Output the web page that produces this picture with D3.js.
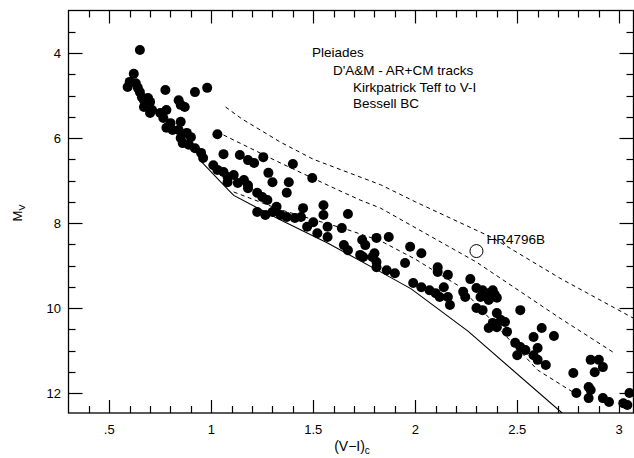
<!DOCTYPE html>
<html><head><meta charset="utf-8">
<script src="https://cdn.jsdelivr.net/npm/d3@7"></script>
<style>
html,body{margin:0;padding:0;background:#fff;}
svg{display:block;font-family:"Liberation Sans",Arial,Helvetica,sans-serif;}
</style></head>
<body><svg id="c" width="634" height="458"></svg>
<script>
// Pleiades members: [V-I, Mv]
const pleiadesVI = [0.65,0.62,0.60,0.59,0.63,0.64,0.65,0.66,0.67,0.69,0.70,0.67,0.71,0.70,0.75,0.765,0.78,0.775,0.84,0.85,0.87,0.92,0.98,0.80,0.78,0.81,0.85,0.84,0.88,0.90,0.85,0.86,0.89,0.92,0.95,0.96,1.03,1.06,1.01,1.03,1.06,1.08,1.11,1.13,1.16,1.18,1.14,1.18,1.21,1.255,1.28,1.30,1.225,1.25,1.275,1.225,1.265,1.30,1.32,
1.40,1.38,1.37,1.495,1.08,1.18,1.34,1.37,1.41,1.45,1.44,1.47,1.50,1.52,1.55,1.55,1.57,1.57,1.64,1.67,1.65,1.67,1.74,1.755,1.745,1.79,1.81,1.81,
1.73,1.80,1.87,1.81,1.86,1.90,1.95,1.975,2.03,1.99,2.03,2.07,2.11,2.11,2.16,2.14,2.10,2.12,2.16,2.17,2.27,2.235,2.245,2.30,2.33,2.32,2.35,2.38,2.39,2.40,2.36,2.30,2.33,2.515,2.40,2.42,2.38,2.36,2.44,2.45,2.40,2.58,2.62,2.68,2.49,2.515,2.50,2.54,2.60,2.58,2.60,2.64,2.775,2.86,2.90,2.92,2.88,2.85,2.86,2.79,2.85,2.92,2.95,3.02,3.05,3.04];
const pleiadesMv = [3.93,4.49,4.68,4.80,4.71,4.82,4.92,5.04,5.11,5.06,5.15,5.27,5.34,5.41,5.41,5.53,5.34,4.87,5.11,5.22,5.27,4.92,4.82,5.65,5.76,5.81,5.62,5.81,5.88,5.98,6.00,6.12,6.16,6.24,6.35,6.47,5.91,6.38,6.64,6.75,6.80,6.92,6.87,7.06,6.99,7.11,6.40,6.52,6.59,6.45,6.82,7.04,7.29,7.39,7.46,7.74,7.81,7.74,7.62,
6.61,7.04,7.29,6.94,7.04,7.18,7.81,7.86,7.88,7.65,7.86,8.09,7.98,8.24,7.58,7.81,8.09,8.33,8.12,7.79,8.52,8.64,8.40,8.52,8.80,8.80,8.35,9.04,
8.75,8.71,8.33,8.92,9.11,9.18,8.94,8.56,8.71,9.41,9.51,9.58,9.04,9.15,9.22,9.51,9.65,9.74,9.74,9.93,9.32,9.62,9.74,9.53,9.58,9.74,9.65,9.58,9.69,9.76,9.81,10.00,10.05,10.05,10.12,10.28,10.35,10.47,10.33,10.56,10.45,10.68,10.47,10.66,10.82,10.92,11.11,10.99,10.94,11.11,11.22,11.34,11.53,11.22,11.22,11.39,11.51,11.86,11.93,12.00,12.12,12.12,12.21,12.24,12.00,12.28];

// theoretical tracks
const solidVI   = [0.95,1.08,1.11,1.34,1.57,1.83,1.98,2.26,2.72];
const solidMv   = [6.55,7.20,7.35,7.93,8.47,9.15,9.55,10.55,12.47];
const dash1VI   = [1.11,1.34,1.67,1.83,2.00,2.22,2.60,2.78];
const dash1Mv   = [7.27,7.69,8.16,8.42,8.85,9.50,11.46,12.00];
const dash2VI   = [1.06,1.34,1.62,1.73,1.83,2.30,2.71,2.97];
const dash2Mv   = [5.93,6.59,7.22,7.46,7.65,8.92,10.24,11.04];
const dash3VI   = [1.07,1.15,1.34,1.50,1.83,2.00,2.38,2.71,3.07];
const dash3Mv   = [5.27,5.55,6.10,6.50,7.10,7.50,8.35,9.30,10.24];

const hrName = "HR4796B", hrVI = 2.30, hrMv = 8.66;

const xTickVals = [0.5,1,1.5,2,2.5,3];
const xTickLabels = [".5","1","1.5","2","2.5","3"];
const yTickVals = [4,6,8,10,12];
const yTickLabels = ["4","6","8","10","12"];
const annoLines = ["Pleiades","D'A&M - AR+CM tracks","Kirkpatrick Teff to V-I","Bessell BC"];

const svg = d3.select("#c");
const L=68.5, R=633.5, T=10.5, B=413;
const x = d3.scaleLinear().domain([0.3,3.07]).range([L,R]);
const y = d3.scaleLinear().domain([3,12.47]).range([T,B]);

// frame
svg.append("rect").attr("x",L).attr("y",T).attr("width",R-L).attr("height",B-T)
  .attr("fill","none").attr("stroke","#000").attr("stroke-width",1.3);

// ticks (inward on all sides)
const xMinor = d3.range(4,31).map(d=>d/10);
const yMinor = d3.range(7,25).map(d=>d/2);
const isMajX = v => Math.abs(v*2-Math.round(v*2))<1e-6;
const isMajY = v => Math.abs(v/2-Math.round(v/2))<1e-6;
const tk = svg.append("g").attr("stroke","#000").attr("stroke-width",1.2);
xMinor.forEach(v=>{
  const len = isMajX(v)?13:7, px = Math.round(x(v))+0.5;
  tk.append("line").attr("x1",px).attr("x2",px).attr("y1",B).attr("y2",B-len);
  tk.append("line").attr("x1",px).attr("x2",px).attr("y1",T).attr("y2",T+len);
});
yMinor.forEach(v=>{
  const len = isMajY(v)?14:7, py = Math.round(y(v))+0.5;
  tk.append("line").attr("y1",py).attr("y2",py).attr("x1",L).attr("x2",L+len);
  tk.append("line").attr("y1",py).attr("y2",py).attr("x1",R).attr("x2",R-len);
});

// tick labels
svg.append("g").selectAll("text").data(xTickVals).join("text")
  .attr("x",d=>x(d)).attr("y",434).attr("text-anchor","middle")
  .attr("font-size",13).text((d,i)=>xTickLabels[i]);
svg.append("g").selectAll("text").data(yTickVals).join("text")
  .attr("x",61).attr("y",d=>y(d)+4.5).attr("text-anchor","end")
  .attr("font-size",13).text((d,i)=>yTickLabels[i]);

// axis titles
const xt = svg.append("text").attr("x",352).attr("y",451).attr("text-anchor","middle").attr("font-size",14);
xt.append("tspan").text("(V\u2212I)");
xt.append("tspan").attr("font-size",10).attr("dy",2.5).text("c");
const yt = svg.append("text").attr("transform","translate(22,213) rotate(-90)").attr("text-anchor","middle").attr("font-size",13);
yt.append("tspan").text("M");
yt.append("tspan").attr("font-size",9).attr("dy",3).text("V");

// tracks
const line = d3.line().x(d=>x(d[0])).y(d=>y(d[1]));
svg.append("clipPath").attr("id","pc").append("rect").attr("x",L).attr("y",T).attr("width",R-L).attr("height",B-T);
const g = svg.append("g").attr("clip-path","url(#pc)");
g.append("path").datum(d3.zip(solidVI,solidMv)).attr("d",line).attr("fill","none").attr("stroke","#000").attr("stroke-width",1.1);
[[dash1VI,dash1Mv],[dash2VI,dash2Mv],[dash3VI,dash3Mv]].forEach(([a,b])=>{
  g.append("path").datum(d3.zip(a,b)).attr("d",line).attr("fill","none").attr("stroke","#000")
   .attr("stroke-width",1).attr("stroke-dasharray","4,3.5");
});

// stars
svg.append("g").selectAll("circle").data(d3.zip(pleiadesVI,pleiadesMv)).join("circle")
  .attr("cx",d=>x(d[0])).attr("cy",d=>y(d[1])).attr("r",5).attr("fill","#000");

// HR4796B
svg.append("circle").attr("cx",x(hrVI)).attr("cy",y(hrMv)).attr("r",6.5)
  .attr("fill","#fff").attr("stroke","#000").attr("stroke-width",1);
svg.append("text").attr("x",x(hrVI)+10).attr("y",y(hrMv)-7).attr("font-size",13.5).text(hrName);

// annotation
const ax=[312,333,353,353], ay=[57,75,92,108];
annoLines.forEach((t,i)=>svg.append("text").attr("x",ax[i]).attr("y",ay[i]).attr("font-size",13.5).text(t));
</script></body></html>
